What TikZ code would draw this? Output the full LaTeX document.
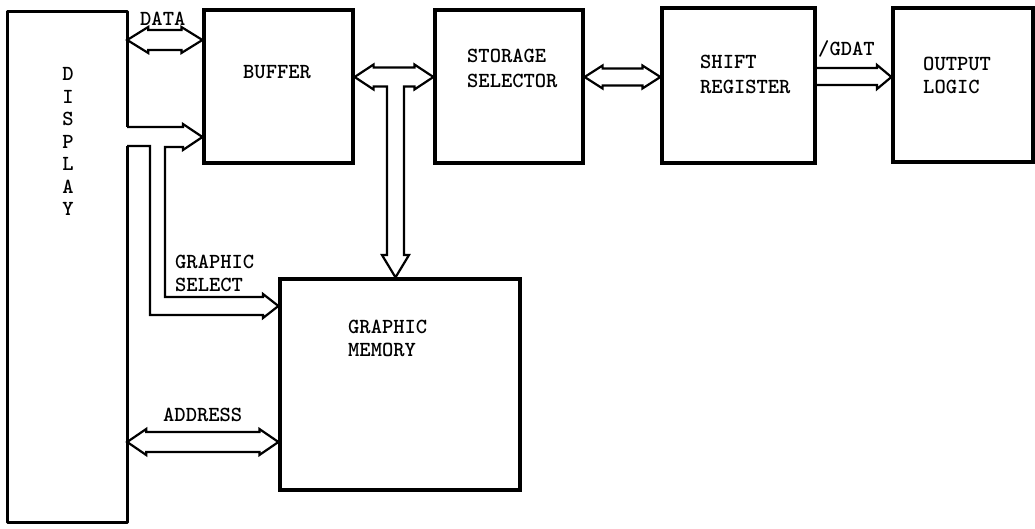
\documentclass[tikz,border=0pt]{standalone}
\usepackage{fontspec}
\usetikzlibrary{calc}
\newcommand\twfont{\ttfamily\bfseries\fontsize{21.5}{25}\selectfont\addfontfeatures{LetterSpace=6}}
\tikzset{
  box/.style={draw, line width=3.2pt, inner sep=0pt},
  boxline/.style={line width=3.2pt, line join=round},
  bus/.style={line width=2.2pt, line join=miter},
  lbl/.style={font=\twfont, inner sep=0pt, anchor=base west},
}
\newcommand\hollowbus[5]{%
  \draw[bus] (#1 |- 0,#3) -- ++(#5,-#4-3) -- ++(0,3)
    -- ($(#2 |- 0,#3)+(-#5,-#4)$) -- ++(0,-3) -- (#2 |- 0,#3)
    -- ++(-#5,#4+3) -- ++(0,-3)
    -- ($(#1 |- 0,#3)+(#5,#4)$) -- ++(0,3) -- cycle;}
\begin{document}
\begin{tikzpicture}[x=1pt,y=-1pt]
\useasboundingbox (0,0) rectangle (1035,529);
% blocks
\node[minimum width=119pt, minimum height=510pt, inner sep=0pt] (disp) at (67.5,267) {};
\node[box, minimum width=149pt, minimum height=153pt] (buf) at (278.5,86.5) {};
\node[box, minimum width=148pt, minimum height=153pt] (stor) at (509,86.5) {};
\node[box, minimum width=153pt, minimum height=155pt] (shift) at (738.5,85.5) {};
\node[box, minimum width=140pt, minimum height=154pt] (out) at (963,85) {};
\node[box, minimum width=240pt, minimum height=211pt] (gmem) at (400,384.5) {};
% display outline with opening for the bus
\draw[boxline] (disp.east |- 0,127) -- (disp.north east) -- (disp.north west)
  -- (disp.south west) -- (disp.south east) -- (disp.east |- 0,146);
% labels
\foreach \c [count=\i from 0] in {D,I,S,P,L,A,Y}
  \node[lbl, anchor=base] (d\i) at (68,{81+22.5*\i}) {\c};
\node[lbl] (tdata) at (140,26) {DATA};
\node[lbl] (tbuf) at (243,79) {BUFFER};
\node[lbl] (tstor1) at (467,63) {STORAGE};
\node[lbl] (tstor2) at (467,88) {SELECTOR};
\node[lbl] (tsh1) at (700,69) {SHIFT};
\node[lbl] (tsh2) at (700,94) {REGISTER};
\node[lbl] (tout1) at (923,71) {OUTPUT};
\node[lbl] (tout2) at (923,94) {LOGIC};
\node[lbl] (tgdat) at (818,56) {/GDAT};
\node[lbl] (tgs1) at (175,269) {GRAPHIC};
\node[lbl] (tgs2) at (175,291) {SELECT};
\node[lbl] (tgm1) at (348,333) {GRAPHIC};
\node[lbl] (tgm2) at (348,356) {MEMORY};
\node[lbl] (taddr) at (163,421) {ADDRESS};
% buses
\hollowbus{disp.east}{buf.west}{40}{10}{21}
\hollowbus{stor.east}{shift.west}{77}{8.5}{18}
\hollowbus{disp.east}{gmem.west}{442}{10}{19}
% buffer <-> storage selector with branch to graphic memory
\draw[bus] (buf.east |- 0,77) -- ++(19,-12.5) -- ++(0,3)
  -- ($(stor.west |- 0,77)+(-19,-9.5)$) -- ++(0,-3) -- (stor.west |- 0,77)
  -- ++(-19,12.5) -- ++(0,-3) -- (404,86.5) -- (404,255) -- (409,255)
  -- (gmem.north -| 395.5,0) -- (382,255) -- (387,255) -- (387,86.5)
  -- ($(buf.east |- 0,77)+(19,9.5)$) -- ++(0,3) -- cycle;
% display -> buffer, with branch to graphic memory (graphic select)
\draw[bus] (disp.east |- 0,127) -- (183,127) -- (183,124) -- (buf.west |- 0,137)
  -- (183,150) -- (183,147) -- (165,147) -- (165,297) -- (263,297) -- (263,294)
  -- (gmem.west |- 0,306) -- (263,318) -- (263,315) -- (150,315) -- (150,146)
  -- (disp.east |- 0,146);
% shift register -> output logic
\draw[bus] (shift.east |- 0,68) -- (877,68) -- (877,65) -- (out.west |- 0,77)
  -- (877,89) -- (877,85) -- (shift.east |- 0,85);
\end{tikzpicture}
\end{document}
